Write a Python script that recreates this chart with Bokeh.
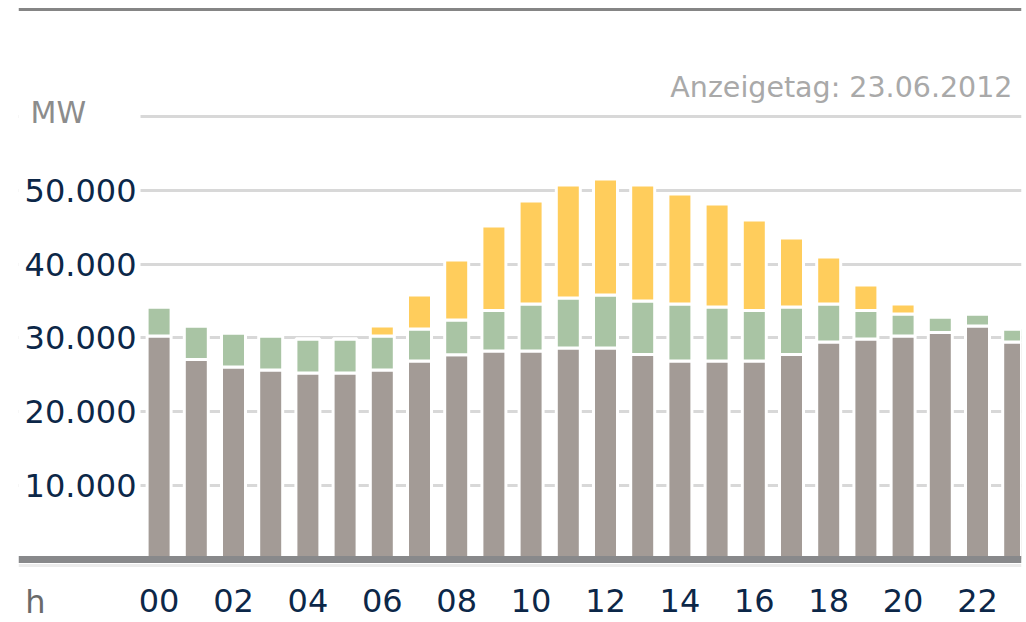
from bokeh.plotting import figure
from bokeh.models import Range1d, FixedTicker, LinearAxis, BoxAnnotation, Label, ColumnDataSource
from bokeh.embed import file_html
from bokeh.resources import INLINE

# ---------------- data ----------------
hours = ["00", "01", "02", "03", "04", "05", "06", "07", "08", "09", "10", "11",
         "12", "13", "14", "15", "16", "17", "18", "19", "20", "21", "22", "23"]
konventionell = [30270, 27080, 26070, 25660, 25250, 25250, 25660, 26880, 27740, 28240, 28240, 28640,
                 28640, 27760, 26880, 26880, 26880, 27760, 29460, 29860, 30270, 30750, 31630, 29460]
wind = [3930, 4540, 4610, 4610, 4610, 4610, 4610, 4340, 4700, 5490, 6370, 6780,
        7190, 7250, 7730, 7320, 6850, 6440, 5150, 3860, 2980, 2100, 1630, 1760]
solar = [0, 0, 0, 0, 0, 0, 1350, 4610, 8140, 11460, 13970, 15320,
         15730, 15730, 14920, 13970, 12270, 9360, 6370, 3460, 1360, 0, 0, 0]
x_tick_hours = ["00", "02", "04", "06", "08", "10", "12", "14", "16", "18", "20", "22"]
y_ticks = [10000, 20000, 30000, 40000, 50000, 60000]
y_tick_labels = ["10.000", "20.000", "30.000", "40.000", "50.000", ""]
unit_label = "MW"
hour_label = "h"
date_label = "Anzeigetag: 23.06.2012"

# ---------------- layout constants ----------------
W, H = 1026, 622
PX_X = 37.2          # pixels per hour
PX_Y = 135.59        # MW per pixel
ZERO_PX = 558.75     # canvas y of zero line
LEFT_PX = 18         # frame left (canvas)
RIGHT_PX = 1021      # frame right (canvas)
FIRST_EDGE = 140     # canvas x of x=-0.5
x_start = -0.5 - (FIRST_EDGE - LEFT_PX) / PX_X
x_end = -0.5 + (RIGHT_PX - FIRST_EDGE) / PX_X
y_end = ZERO_PX * PX_Y
y_start = -(H - ZERO_PX) * PX_Y
LABEL_GAP = 24


def xpx(px):
    return -0.5 + (px - FIRST_EDGE) / PX_X


def ypx(py):
    return (ZERO_PX - py) * PX_Y


FONT = "DejaVu Sans"
NAVY = "#0c2748"

xs = list(range(len(hours)))
src = ColumnDataSource(dict(x=xs, hour=hours, konv=konventionell, wind=wind, solar=solar))

p = figure(width=W, height=H, output_backend="svg", toolbar_location=None,
           x_range=Range1d(x_start, x_end), y_range=Range1d(y_start, y_end),
           min_border_left=LEFT_PX, min_border_right=W - RIGHT_PX, min_border_top=0, min_border_bottom=0,
           outline_line_color=None, background_fill_color="white", border_fill_color="white")

p.vbar_stack(["konv", "wind", "solar"], x="x", width=0.645, source=src,
             color=["#a39b96", "#a9c4a4", "#ffcd5c"],
             line_color="white", line_width=3)

# grid
p.xgrid.visible = False
p.ygrid.grid_line_color = "#d8d8d8"
p.ygrid.grid_line_width = 3

# cover grid left of the bars
p.add_layout(BoxAnnotation(right=-0.5, fill_color="white", fill_alpha=1.0,
                           line_alpha=0, level="glyph"))

# x axis
xa = p.xaxis[0]
xa.fixed_location = 0
xa.ticker = FixedTicker(ticks=[hours.index(h) for h in x_tick_hours])
xa.major_label_overrides = {hours.index(h): h for h in x_tick_hours}
xa.axis_line_color = "#88898b"
xa.axis_line_width = 7
xa.major_tick_line_color = None
xa.minor_tick_line_color = None
xa.major_label_standoff = LABEL_GAP
xa.major_label_text_font = FONT
xa.major_label_text_font_size = "32px"
xa.major_label_text_color = NAVY

# faint shadow under the base line
shadow = LinearAxis(fixed_location=ypx(565), ticker=FixedTicker(ticks=[]),
                    axis_line_color="#ececec", axis_line_width=3,
                    major_tick_line_color=None, minor_tick_line_color=None,
                    major_label_text_font_size="0px")
p.add_layout(shadow, "below")

# y axis
ya = p.yaxis[0]
ya.fixed_location = -0.5
ya.ticker = FixedTicker(ticks=y_ticks)
ya.major_label_overrides = dict(zip(y_ticks, y_tick_labels))
ya.axis_line_color = None
ya.major_tick_line_color = None
ya.minor_tick_line_color = None
ya.major_label_standoff = -2
ya.major_label_text_font = FONT
ya.major_label_text_font_size = "32px"
ya.major_label_text_color = NAVY

# top rule
top = LinearAxis(fixed_location=ypx(8.5), ticker=FixedTicker(ticks=[]),
                 axis_line_color="#858585", axis_line_width=3,
                 major_tick_line_color=None, minor_tick_line_color=None,
                 major_label_text_font_size="0px")
p.add_layout(top, "above")

# texts
p.add_layout(Label(x=xpx(30), y=ypx(112), text=unit_label,
                   text_font=FONT, text_font_size="30px", text_color="#8c8c8c",
                   text_align="left", text_baseline="alphabetic"))
p.add_layout(Label(x=xpx(35), y=ypx(ZERO_PX + LABEL_GAP), text=hour_label,
                   text_font=FONT, text_font_size="32px", text_color="#6a6a6a",
                   text_align="center", text_baseline="top"))
p.add_layout(Label(x=xpx(1012), y=ypx(87), text=date_label,
                   text_font=FONT, text_font_size="28.5px", text_color="#a9a9a9",
                   text_align="right", text_baseline="alphabetic"))

open("out.html", "w").write(file_html(p, INLINE))
